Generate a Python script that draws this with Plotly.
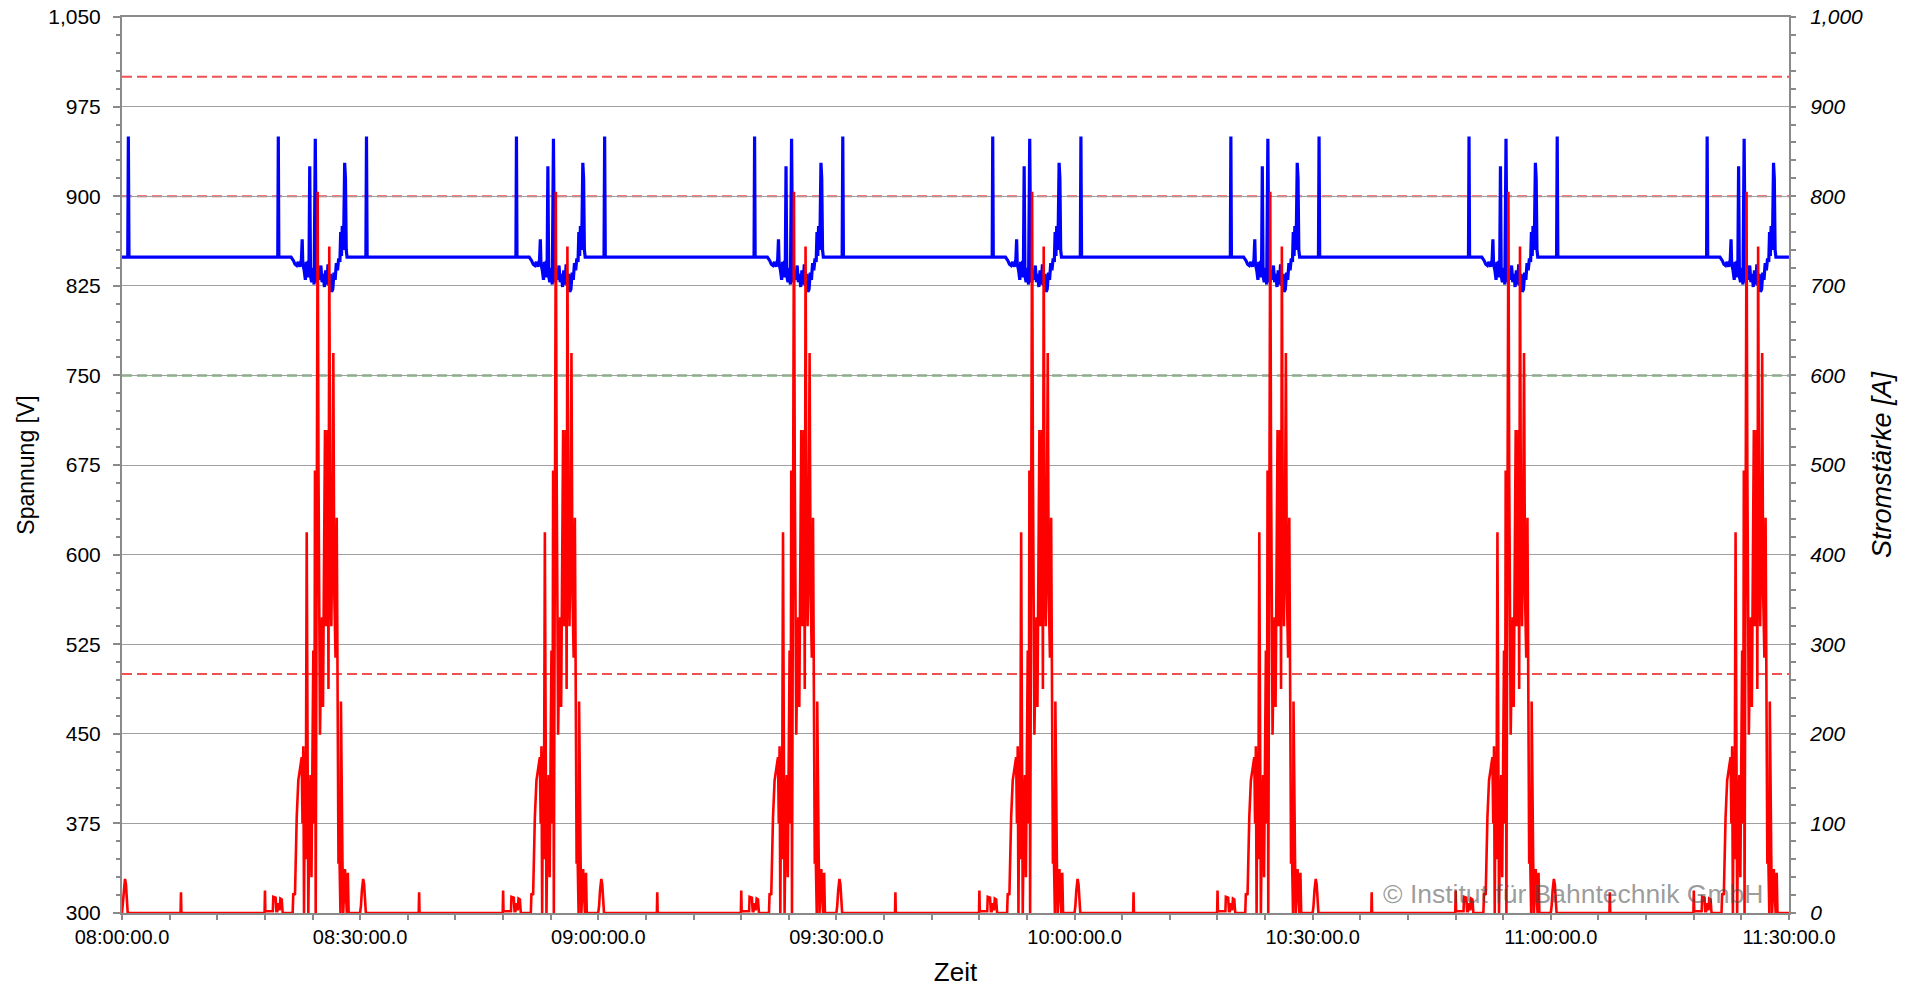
import plotly.graph_objects as go
from datetime import datetime, timedelta

# ---------------- data ----------------
DAY = "2024-01-01"
CYCLE_STARTS = ["08:00", "08:30", "09:00", "09:30", "10:00", "10:30", "11:00"]

# current (A) within one 30-minute cycle: minutes after cycle start
I_MIN = [0.00, 0.10, 0.22, 0.38, 0.50, 0.62, 0.72,
         7.38, 7.43, 7.48,
         17.96, 18.01, 18.06, 19.00, 19.06, 19.35, 19.45, 19.56, 19.70, 19.85, 19.95, 20.12, 20.24,
         21.50, 21.58, 21.79, 22.01, 22.21, 22.42, 22.64, 22.74, 22.84, 22.93, 23.05, 23.14,
         23.27, 23.37, 23.47, 23.62, 23.75, 23.87, 24.00, 24.10, 24.23, 24.31, 24.40, 24.50,
         24.65, 24.75, 24.85, 24.94, 25.07, 25.20, 25.32, 25.45, 25.57, 25.70, 25.91, 26.01,
         26.11, 26.24, 26.37, 26.50, 26.62, 26.75, 26.90, 27.05, 27.15, 27.27, 27.40, 27.52,
         27.58, 27.68, 27.77, 27.87, 27.97, 28.09, 28.22, 28.32, 28.45, 28.55, 29.99]
I_AMP = [0, 8, 25, 38, 32, 15, 0,
         0, 23, 0,
         0, 25, 2, 2, 18, 17, 2, 2, 11, 3, 16, 15, 0,
         0, 22, 20, 107, 148, 160, 174, 100, 186, 0, 180, 60,
         425, 200, 0, 120, 154, 40, 240, 293, 100, 494, 0, 350,
         805, 500, 300, 199, 280, 330, 230, 400, 539, 320, 539, 250,
         744, 412, 320, 420, 625, 354, 285, 441, 300, 55, 60, 0,
         236, 70, 60, 0, 30, 49, 20, 0, 45, 0, 0]

# voltage (V) within one 30-minute cycle: minutes after cycle start
U_MIN = [0.00, 0.72, 0.80, 0.88,
         19.62, 19.69, 19.76,
         21.30, 21.60, 21.80, 22.00, 22.20, 22.40, 22.60, 22.70, 22.78, 22.95, 23.10, 23.20,
         23.35, 23.45, 23.55, 23.65, 23.75, 23.90, 24.05, 24.20, 24.35, 24.48, 24.60, 24.75,
         24.90, 25.05, 25.20, 25.35, 25.50, 25.65, 25.80, 25.95, 26.10, 26.25, 26.40, 26.55,
         26.70, 26.85, 27.00, 27.15, 27.30, 27.45, 27.55, 27.65, 27.75, 27.85, 27.95, 28.05,
         28.15, 28.25, 28.35, 29.99]
U_VOLT = [849, 849, 950, 849,
          849, 950, 849,
          849, 846, 843, 842, 845, 841, 847, 864, 843, 838, 830, 845,
          832, 846, 836, 925, 833, 828, 840, 826, 948, 835, 828, 838,
          830, 842, 828, 835, 824, 838, 826, 843, 825, 835, 820, 822,
          836, 830, 844, 838, 848, 845, 870, 850, 875, 855, 878, 928,
          915, 855, 849, 849]

RED_LIMITS_V = [1000, 900, 500]
GREEN_LIMITS_V = [750]

X_START = "08:00"
X_END = "11:30"
WATERMARK = "© Institut für Bahntechnik GmbH"

# ---------------- build series ----------------
def ts(hhmm):
    return datetime.fromisoformat(f"{DAY} {hhmm}:00")

def tile(mins, vals):
    xs, ys = [], []
    for c in CYCLE_STARTS:
        t0 = ts(c)
        for m, v in zip(mins, vals):
            xs.append(t0 + timedelta(minutes=m))
            ys.append(v)
    return xs, ys

ux, uy = tile(U_MIN, U_VOLT)
ix, iy = tile(I_MIN, I_AMP)

FONT = "Liberation Sans, Arial, sans-serif"
fig = go.Figure()
fig.add_trace(go.Scatter(x=ux, y=uy, mode="lines", name="Spannung",
                         line=dict(color="#0000FF", width=3.2), yaxis="y"))
fig.add_trace(go.Scatter(x=ix, y=iy, mode="lines", name="Stromstärke",
                         line=dict(color="#FF0000", width=2.6), yaxis="y2"))

for v in RED_LIMITS_V:
    fig.add_shape(type="line", xref="paper", x0=0, x1=1, yref="y", y0=v, y1=v,
                  line=dict(color="#F05050", width=2, dash="10px,5px"), layer="between")
for v in GREEN_LIMITS_V:
    fig.add_shape(type="line", xref="paper", x0=0, x1=1, yref="y", y0=v, y1=v,
                  line=dict(color="#3C963C", width=2, dash="10px,5px"), layer="between")

fig.add_annotation(text=WATERMARK, xref="paper", yref="paper", x=0.9855, y=0.002,
                   xanchor="right", yanchor="bottom", showarrow=False,
                   font=dict(family=FONT, size=26.5, color="rgba(70,70,70,0.55)"))

axis_gray = "#8A8A8A"
fig.update_layout(
    width=1919, height=989,
    margin=dict(l=122, r=130, t=17, b=76, autoexpand=False),
    paper_bgcolor="white", plot_bgcolor="white",
    showlegend=False,
    font=dict(family=FONT, size=19, color="black"),
    xaxis=dict(
        type="date", range=[ts(X_START), ts(X_END)], automargin=False,
        tickformat="%H:%M:%S.%1f", dtick=30 * 60 * 1000, tick0=ts(X_START),
        ticks="outside", ticklen=5, tickcolor=axis_gray, tickwidth=1.5,
        minor=dict(dtick=6 * 60 * 1000, ticks="outside", ticklen=5, tickcolor=axis_gray, showgrid=False),
        showgrid=False, showline=True, linecolor=axis_gray, linewidth=2, mirror=True,
        title=dict(text="Zeit", font=dict(size=26), standoff=16),
        tickfont=dict(size=20), zeroline=False,
    ),
    yaxis=dict(
        range=[300, 1050], dtick=75, tick0=300, tickformat=",", automargin=False,
        ticks="outside", ticklen=7, tickcolor=axis_gray, tickwidth=1.5,
        minor=dict(dtick=15, ticks="outside", ticklen=4, tickcolor=axis_gray, showgrid=False),
        showgrid=True, gridcolor="#A0A0A0", gridwidth=1,
        showline=True, linecolor=axis_gray, linewidth=2,
        ticklabelstandoff=8,
        title=dict(text="Spannung [V]", font=dict(size=23), standoff=7),
        tickfont=dict(size=21), zeroline=False,
    ),
    yaxis2=dict(
        overlaying="y", side="right", anchor="x", automargin=False,
        range=[0, 1000], dtick=100, tick0=0, tickformat=",",
        ticks="outside", ticklen=5, tickcolor=axis_gray, tickwidth=1.5,
        minor=dict(dtick=20, ticks="outside", ticklen=5, tickcolor=axis_gray, showgrid=False),
        showgrid=False, showline=True, linecolor=axis_gray, linewidth=2,
        ticklabelstandoff=10,
        title=dict(text="Stromstärke [A]", font=dict(size=27, style="italic"), standoff=10),
        tickfont=dict(size=21, style="italic"), zeroline=False,
    ),
)

fig.write_html("out.html", config={"displayModeBar": False},
               post_script="document.body.style.margin='0';")
